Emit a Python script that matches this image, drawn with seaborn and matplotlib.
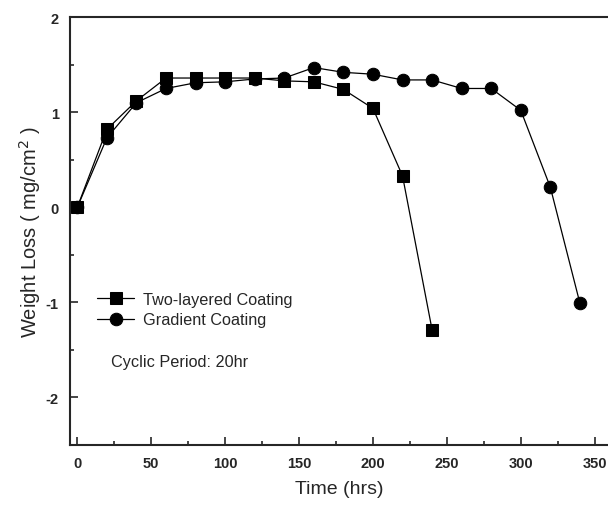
import numpy as np
import pandas as pd
import matplotlib
matplotlib.use("Agg")
import matplotlib.pyplot as plt
import seaborn as sns
from matplotlib.ticker import MultipleLocator

# data
time_two = [0, 20, 40, 60, 80, 100, 120, 140, 160, 180, 200, 220, 240]
loss_two = [0.0, 0.82, 1.12, 1.36, 1.36, 1.36, 1.36, 1.33, 1.32, 1.24, 1.04, 0.33, -1.29]

time_grad = [0, 20, 40, 60, 80, 100, 120, 140, 160, 180, 200, 220, 240, 260, 280, 300, 320, 340]
loss_grad = [0.0, 0.73, 1.10, 1.25, 1.31, 1.32, 1.35, 1.36, 1.47, 1.42, 1.40, 1.34, 1.34, 1.25, 1.25, 1.02, 0.21, -1.01]

labels = ["Two-layered Coating", "Gradient Coating"]

df = pd.concat([
    pd.DataFrame({"t": time_two, "w": loss_two, "s": labels[0]}),
    pd.DataFrame({"t": time_grad, "w": loss_grad, "s": labels[1]}),
])

sns.set_style("ticks")
plt.rcParams['font.family'] = ['Liberation Sans', 'DejaVu Sans']
plt.rcParams['axes.unicode_minus'] = False

fig = plt.figure(figsize=(6.08, 5.06), dpi=100)
ax = fig.add_axes([0.115, 0.119, 0.885, 0.845])

sns.lineplot(data=df, x="t", y="w", hue="s", style="s",
             markers={labels[0]: "s", labels[1]: "o"},
             dashes=False, palette={labels[0]: "black", labels[1]: "black"},
             markersize=9, linewidth=0.9, markeredgecolor="black",
             ax=ax, sort=False)

ax.set_xlim(-5, 359)
ax.set_ylim(-2.5, 2)
ax.xaxis.set_major_locator(MultipleLocator(50))
ax.xaxis.set_minor_locator(MultipleLocator(25))
ax.yaxis.set_major_locator(MultipleLocator(1))
ax.yaxis.set_minor_locator(MultipleLocator(0.5))
ax.tick_params(which="both", direction="in", top=False, right=False, width=1.2)
ax.tick_params(which="major", length=6, labelsize=10.5)
ax.tick_params(which="minor", length=3)
for lab in ax.get_xticklabels() + ax.get_yticklabels():
    lab.set_fontweight("bold")
ax.tick_params(axis="x", pad=8)
ax.tick_params(axis="y", pad=8)

for side in ["left", "bottom", "top"]:
    ax.spines[side].set_linewidth(1.5)
ax.spines["right"].set_visible(False)

ax.set_xlabel("Time (hrs)", fontsize=14, labelpad=7)
ax.set_ylabel("Weight Loss ( mg/cm$^2$ )", fontsize=14.5, labelpad=2)

leg = ax.legend(loc="upper left", bbox_to_anchor=(0.038, 0.373), frameon=False,
                fontsize=11.7, handlelength=2.3, handletextpad=0.55, labelspacing=0.35,
                borderaxespad=0)
ax.text(0.076, 0.194, "Cyclic Period: 20hr", transform=ax.transAxes,
        fontsize=11.7, va="center")

fig.savefig("out.png", dpi=100)
